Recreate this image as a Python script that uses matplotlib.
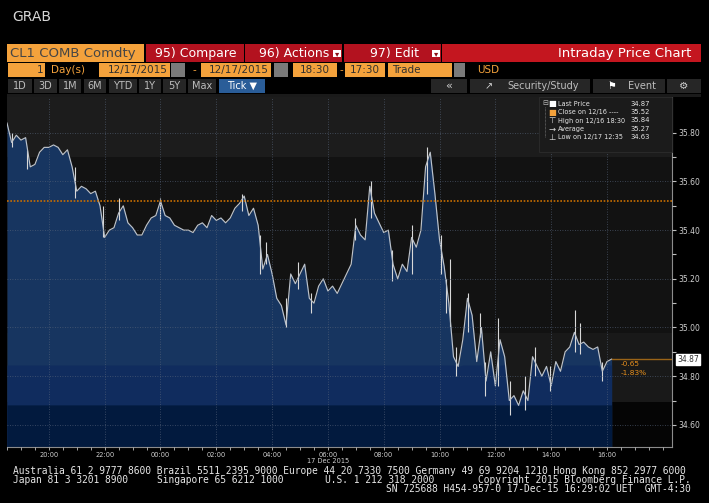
import numpy as np
import matplotlib
matplotlib.use("Agg")
import matplotlib.pyplot as plt
from matplotlib.patches import Rectangle

W, H = 709, 503

# ---- data (CL1 intraday, 10 minute buckets from 18:30 on 12/16)
step_min = 10
price = [35.84, 35.76, 35.79, 35.77, 35.78, 35.66, 35.67, 35.72, 35.74, 35.74,
         35.75, 35.74, 35.71, 35.73, 35.66, 35.56, 35.58, 35.57, 35.55, 35.56,
         35.50, 35.37, 35.40, 35.41, 35.47, 35.50, 35.43, 35.41, 35.38, 35.38,
         35.42, 35.45, 35.46, 35.52, 35.46, 35.45, 35.42, 35.41, 35.40, 35.40,
         35.39, 35.42, 35.43, 35.41, 35.46, 35.44, 35.45, 35.43, 35.45, 35.49,
         35.51, 35.54, 35.46, 35.49, 35.42, 35.24, 35.30, 35.22, 35.12, 35.09,
         35.01, 35.22, 35.18, 35.22, 35.26, 35.12, 35.10, 35.17, 35.20, 35.15,
         35.17, 35.14, 35.18, 35.22, 35.26, 35.42, 35.38, 35.36, 35.58, 35.47,
         35.43, 35.39, 35.40, 35.26, 35.20, 35.26, 35.23, 35.37, 35.33, 35.40,
         35.66, 35.72, 35.55, 35.36, 35.25, 35.10, 34.88, 34.84, 34.95, 35.12,
         35.05, 34.86, 35.00, 34.78, 34.90, 34.76, 34.95, 34.88, 34.70, 34.72,
         34.68, 34.74, 34.70, 34.88, 34.84, 34.80, 34.84, 34.76, 34.86, 34.82,
         34.90, 34.92, 34.98, 34.93, 34.94, 34.92, 34.91, 34.92, 34.82, 34.86,
         34.87]

# tick spikes: hours after 18:30, low, high
wick_t = [0.17, 0.71, 2.43, 3.43, 4.01, 5.48, 8.42, 9.06, 9.28, 9.99, 10.42,
          10.90, 12.47, 13.04, 13.79, 14.51, 15.05, 15.55, 15.73, 15.87, 16.09,
          16.52, 16.95, 17.13, 17.59, 18.03, 18.56, 18.92, 19.46, 20.35, 20.53,
          21.32]
wick_lo = [35.74, 35.65, 35.53, 35.37, 35.44, 35.44, 35.48, 35.22, 35.26, 35.00,
           35.16, 35.06, 35.36, 35.45, 35.19, 35.22, 35.55, 35.22, 35.06, 35.00,
           34.80, 34.98, 34.96, 34.72, 34.76, 34.64, 34.66, 34.80, 34.74, 34.90,
           34.89, 34.78]
wick_hi = [35.80, 35.73, 35.66, 35.50, 35.53, 35.53, 35.55, 35.38, 35.35, 35.12,
           35.27, 35.14, 35.45, 35.60, 35.32, 35.42, 35.74, 35.38, 35.20, 35.28,
           34.92, 35.14, 35.06, 34.86, 35.04, 34.78, 34.80, 34.92, 34.84, 35.07,
           35.02, 34.86]

close_prev = 35.52
last_price = 34.87
chg_abs = "-0.65"
chg_pct = "-1.83%"

y_ticks = [34.6, 34.8, 35.0, 35.2, 35.4, 35.6, 35.8]
x_labels = ["20:00", "22:00", "00:00", "02:00", "04:00", "06:00",
            "08:00", "10:00", "12:00", "14:00", "16:00"]
date_label = "17 Dec 2015"

leg_labels = ["Last Price", "Close on 12/16 ----", "High on 12/16 18:30",
              "Average", "Low on 12/17 12:35"]
leg_values = ["34.87", "35.52", "35.84", "35.27", "34.63"]

ORANGE = "#f4a23c"
RED_BTN = "#b3121f"
RED_BIG = "#c4161f"
BTN = "#262626"

fig = plt.figure(figsize=(W / 100, H / 100), dpi=100, facecolor="black")


def px_box(x0, y0, x1, y1, color, z=1, ec="none"):
    fig.add_artist(Rectangle((x0 / W, 1 - y1 / H), (x1 - x0) / W, (y1 - y0) / H,
                             transform=fig.transFigure, facecolor=color,
                             edgecolor=ec, lw=0.6, zorder=z))


def px_text(x, y, s, **kw):
    kw.setdefault("va", "center")
    kw.setdefault("color", "#e0e0e0")
    fig.text(x / W, 1 - y / H, s, **kw)


# ---- header / toolbars
px_text(12, 17, "GRAB", color="#d6d6d6", fontsize=10)

px_box(7, 44, 144, 62, ORANGE)
px_text(10, 53, "CL1 COMB Comdty", color="#454545", fontsize=9.5)
px_box(146, 44, 244, 62, RED_BTN)
px_text(196, 53, "95) Compare", ha="center", color="white", fontsize=9)
px_box(245, 44, 342, 62, RED_BTN)
px_text(259, 53, "96) Actions", color="white", fontsize=9)
px_box(333, 50, 341, 57, "white", z=2)
px_text(337, 53.5, "\u25BE", ha="center", color="#8a1018", fontsize=6)
px_box(344, 44, 441, 62, RED_BTN)
px_text(370, 53, "97) Edit", color="white", fontsize=9)
px_box(432, 50, 440, 57, "white", z=2)
px_text(436, 53.5, "\u25BE", ha="center", color="#8a1018", fontsize=6)
px_box(442, 44, 701, 62, RED_BIG)
px_text(691, 53, "Intraday Price Chart", ha="right", color="white", fontsize=9.5)

# row 2
px_box(8, 63, 45, 77, ORANGE)
px_text(43, 70, "1", ha="right", color="#303030", fontsize=7.5)
px_text(51, 70, "Day(s)", color=ORANGE, fontsize=7.5)
px_box(99, 63, 170, 77, ORANGE)
px_text(168, 70, "12/17/2015", ha="right", color="#303030", fontsize=7.5)
px_box(171, 63, 185, 77, "#7a7a7a")
px_text(194, 70, "-", ha="center", color=ORANGE, fontsize=7.5)
px_box(201, 63, 271, 77, ORANGE)
px_text(269, 70, "12/17/2015", ha="right", color="#303030", fontsize=7.5)
px_box(274, 63, 288, 77, "#7a7a7a")
px_box(293, 63, 337, 77, ORANGE)
px_text(315, 70, "18:30", ha="center", color="#303030", fontsize=7.5)
px_text(341, 70, "-", ha="center", color=ORANGE, fontsize=7.5)
px_box(345, 63, 385, 77, ORANGE)
px_text(365, 70, "17:30", ha="center", color="#303030", fontsize=7.5)
px_box(388, 63, 452, 77, ORANGE)
px_text(392, 70, "Trade", color="#303030", fontsize=7.5)
px_box(454, 63, 465, 77, "#7a7a7a")
px_text(477, 70, "USD", color=ORANGE, fontsize=7.5)

# row 3
left_btns = [("1D", 8, 32), ("3D", 34, 57), ("1M", 59, 81), ("6M", 84, 106),
             ("YTD", 109, 137), ("1Y", 139, 161), ("5Y", 163, 186), ("Max", 188, 216)]
for lab, a, b in left_btns:
    px_box(a, 79, b, 93, BTN)
    px_text((a + b) / 2, 86, lab, ha="center", color="#bdbdbd", fontsize=7)
px_box(219, 79, 265, 93, "#2a5d98")
px_text(242, 86, "Tick \u25BC", ha="center", color="white", fontsize=7)
px_box(431, 79, 467, 93, BTN)
px_text(449, 86, "\u00AB", ha="center", color="#d0d0d0", fontsize=8)
px_box(470, 79, 590, 93, BTN)
px_text(489, 86, "\u2197", ha="center", color="#d0d0d0", fontsize=7)
px_text(507, 86, "Security/Study", color="#bdbdbd", fontsize=7)
px_box(593, 79, 665, 93, BTN)
px_text(612, 86, "\u2691", ha="center", color="white", fontsize=7)
px_text(628, 86, "Event", color="#bdbdbd", fontsize=7)
px_box(667, 79, 701, 93, BTN)
px_text(684, 86, "\u2699", ha="center", color="#d0d0d0", fontsize=7.5)
px_box(7, 94, 701, 97, "#1a1a1a")

# ---- chart
ax = fig.add_axes([7 / W, 1 - 447 / H, (672 - 7) / W, (447 - 97) / H])
ax.set_facecolor("#121212")
ymin, ymax = 34.509, 35.947
xmax = 23.83
t = np.arange(len(price)) * step_min / 60.0
p = np.array(price)

ax.axhspan(35.70, ymax, color="#1c1c1c", lw=0, zorder=0)
ax.axhspan(34.694, 34.977, color="#191919", lw=0, zorder=0)
ax.axhspan(ymin, 34.694, color="#050505", lw=0, zorder=0)

ax.fill_between(t, p, ymin, color="#173560", lw=0, zorder=1)
ax.fill_between(t, np.minimum(p, 34.846), ymin, color="#102c5e", lw=0, zorder=1)
ax.fill_between(t, np.minimum(p, 34.682), ymin, color="#021a3e", lw=0, zorder=1)

ax.vlines(wick_t, wick_lo, wick_hi, color="#d8d8d8", lw=0.8, zorder=2)
ax.plot(t, p, color="#bcc2ca", lw=0.85, zorder=2)

ax.axhline(close_prev, color="#c86e00", lw=1.2, ls=(0, (1, 1)), zorder=3)
ax.plot([t[-1], xmax], [last_price, last_price], color="#9a6418", lw=1, zorder=3)

ax.set_xlim(0, xmax)
ax.set_ylim(ymin, ymax)
ax.set_axisbelow(False)
ax.grid(True, color="#56647a", lw=0.6, ls=(0, (1, 2)), alpha=0.8)

ax.set_xticks([1.5 + 2 * i for i in range(len(x_labels))])
ax.set_xticklabels(x_labels)
ax.set_xticks(np.arange(0, xmax, 0.5), minor=True)
ax.tick_params(axis="x", which="both", colors="#bdbdbd", labelcolor="#cfcfcf",
               labelsize=4.8, length=2.5, width=0.6, pad=1.2)
ax.yaxis.tick_right()
ax.set_yticks(y_ticks)
ax.set_yticklabels(["%.2f" % v for v in y_ticks])
ax.set_yticks([v + 0.1 for v in y_ticks[:-1]], minor=True)
ax.tick_params(axis="y", which="both", colors="#bdbdbd", labelcolor="#d0d0d0",
               labelsize=5.5, length=3, width=0.8, pad=1.5)
for s in ["top", "left"]:
    ax.spines[s].set_visible(False)
for s in ["right", "bottom"]:
    ax.spines[s].set_color("#8c8c8c")
    ax.spines[s].set_linewidth(0.8)

px_text(328, 461, date_label, ha="center", color="#cfcfcf", fontsize=4.8)

# ---- legend box
px_box(539, 97, 672, 152, "#1b1b1b", z=5, ec="#2c2c2c")
px_text(545, 103, "\u229F", ha="center", color="#bbbbbb", fontsize=5, zorder=6)
fig.add_artist(plt.Line2D([545 / W, 545 / W], [1 - 107 / H, 1 - 137 / H],
                          transform=fig.transFigure, color="#888888", lw=0.5,
                          ls=(0, (1, 1)), zorder=6))
icons = ["\u25A0", "\u25A0", "\u22A4", "\u2192", "\u22A5"]
icon_cols = ["white", ORANGE, "#dddddd", "#dddddd", "#dddddd"]
for i, (lab, val) in enumerate(zip(leg_labels, leg_values)):
    yy = 103.7 + 8.4 * i
    px_text(552, yy, icons[i], ha="center", color=icon_cols[i], fontsize=6, zorder=6)
    px_text(558, yy, lab, color="#e6e6e6", fontsize=4.7, zorder=6)
    px_text(630, yy, val, color="#e6e6e6", fontsize=4.9, zorder=6)

# ---- last price annotations
px_text(621, 364, chg_abs, color="#e8901c", fontsize=5.3, zorder=6)
px_text(621, 373, chg_pct, color="#e8901c", fontsize=5.3, zorder=6)
px_text(677, 359.5, "%.2f" % last_price, color="#333333", fontsize=5.5, zorder=6,
        bbox=dict(boxstyle="square,pad=0.15", facecolor="white", edgecolor="white"))

# ---- footer
foot = dict(color="#e6e6e6", fontsize=6.9, family="DejaVu Sans Mono")
px_text(13, 471, "Australia 61 2 9777 8600 Brazil 5511 2395 9000 Europe 44 20 7330 7500 "
        "Germany 49 69 9204 1210 Hong Kong 852 2977 6000", **foot)
px_text(13, 480, "Japan 81 3 3201 8900", **foot)
px_text(157, 480, "Singapore 65 6212 1000", **foot)
px_text(325, 480, "U.S. 1 212 318 2000", **foot)
px_text(691, 480, "Copyright 2015 Bloomberg Finance L.P.", ha="right", **foot)
px_text(691, 489, "SN 725688 H454-957-0 17-Dec-15 16:29:02 UET  GMT-4:30", ha="right", **foot)

fig.savefig("out.png", dpi=100, facecolor="black")
